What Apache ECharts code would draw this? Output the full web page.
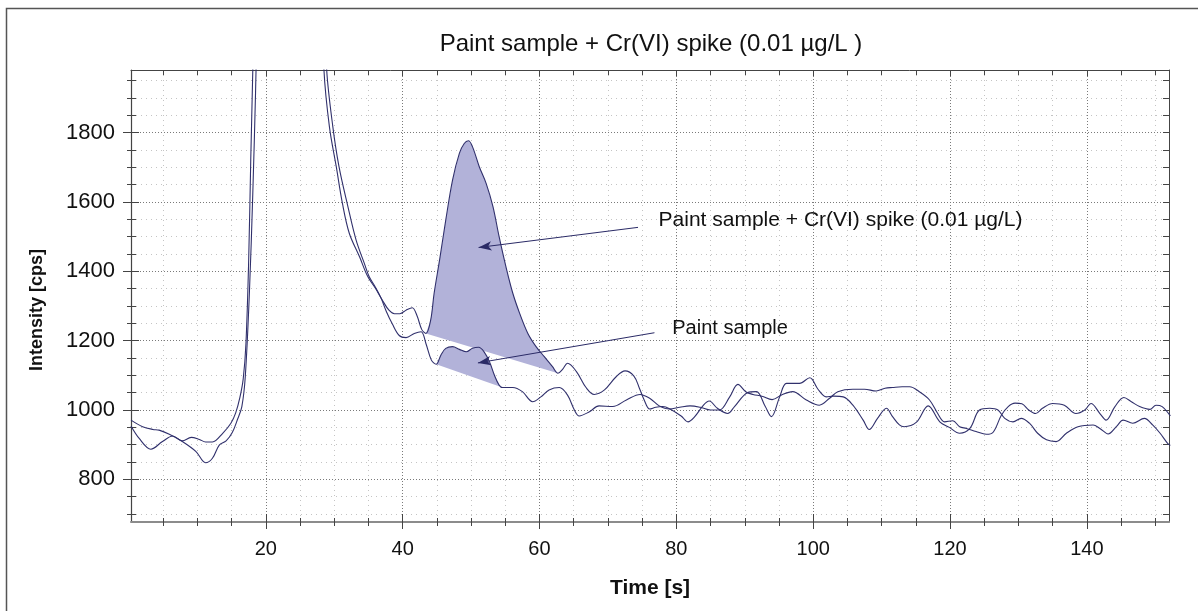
<!DOCTYPE html>
<html>
<head>
<meta charset="utf-8">
<script src="https://cdn.jsdelivr.net/npm/echarts@6/dist/echarts.min.js"></script>
<style>
html,body{margin:0;padding:0;background:#ffffff;}
#chart{width:1198px;height:611px;}
</style>
</head>
<body>
<div id="chart"></div>
<script>
// ---------------- data ----------------
const titleText = 'Paint sample + Cr(VI) spike (0.01 µg/L )';
const xAxisName = 'Time [s]';
const yAxisName = 'Intensity [cps]';
const xTickLabels = [20, 40, 60, 80, 100, 120, 140];
const yTickLabels = [800, 1000, 1200, 1400, 1600, 1800];

// Paint sample + Cr(VI) spike  [time s, intensity cps]
const spikeSeries = [
  [0.3,954],[1.5,918],[3.2,887],[4.9,909],[6.4,925],[7.8,911],[9.1,921],[10.3,915],[11.2,908],[12.2,908],
  [13.7,933],[14.9,962],[15.6,992],[16.2,1035],[16.7,1090],[17.1,1192],[17.5,1433],[17.8,1721],[18.1,1981],
  [18.4,2300],[19.5,3200],[23,4500],[27.5,3200],[28.2,2250],[28.5,1981],[29.3,1817],[30.3,1702],[31.2,1596],
  [32.2,1510],[33.7,1442],[34.9,1385],[36.0,1352],[37.0,1318],[38.0,1288],[38.8,1278],[39.6,1278],[40.5,1288],
  [41.4,1295],[42.1,1272],[42.8,1232],[43.4,1221],[44.1,1260],[44.6,1337],[45.4,1433],[46.3,1548],[47.3,1664],
  [48.3,1741],[49.0,1769],[49.6,1777],[50.2,1760],[51.2,1702],[52.2,1654],[53.2,1587],[54.1,1500],[55.1,1413],
  [56.1,1337],[57.1,1279],[58.3,1221],[59.5,1183],[60.7,1154],[61.9,1125],[62.7,1106],[63.4,1118],[64.1,1135],
  [65.4,1111],[66.8,1065],[68.0,1045],[69.5,1058],[71.2,1096],[72.5,1113],[73.8,1098],[74.6,1063],[75.3,1029],
  [76.1,1003],[77.0,1008],[78.0,1010],[79.0,1004],[80.7,983],[81.7,966],[82.6,979],[84.0,1015],[84.8,1026],
  [86.0,1005],[87.5,990],[88.5,1010],[90.4,1050],[91.7,1053],[93.0,1010],[93.9,981],[95.1,1038],[96.1,1077],
  [98.0,1077],[99.5,1093],[100.7,1060],[101.9,1038],[103.0,1040],[104.4,1038],[105.8,1014],[107.3,971],
  [108.2,944],[109.4,976],[110.7,1005],[111.6,981],[112.6,957],[113.3,952],[115.1,965],[116.8,1012],[118.5,966],
  [119.9,950],[121.4,933],[122.9,947],[124.3,1000],[125.8,1005],[127.0,1000],[128.0,976],[129.2,966],[130.4,976],
  [131.6,962],[132.8,933],[134.1,914],[135.5,909],[137.0,933],[138.7,952],[140.9,957],[141.9,947],[143.1,931],
  [144.3,952],[145.3,971],[146.7,962],[148.4,976],[149.6,957],[150.7,933],[151.8,904],[152.2,898]
];

// Paint sample  [time s, intensity cps]
const paintSeries = [
  [0.3,971],[2.0,952],[3.5,944],[4.4,942],[5.9,930],[7.8,909],[9.8,880],[11.2,848],[12.2,861],[13.2,899],
  [14.2,911],[15.1,935],[15.9,975],[16.5,1010],[17.0,1096],[17.6,1337],[18.1,1625],[18.5,1914],[18.7,2100],
  [20,3200],[24,4500],[28,3200],[28.6,2200],[28.9,1981],[29.8,1817],[30.7,1702],[32.0,1587],[33.2,1490],
  [34.4,1423],[35.1,1385],[36.0,1355],[36.8,1325],[37.6,1285],[38.5,1248],[39.5,1215],[40.5,1209],[41.7,1221],
  [42.7,1226],[43.4,1192],[44.2,1144],[44.9,1132],[45.6,1159],[46.3,1178],[47.3,1183],[48.3,1175],[49.3,1168],
  [50.2,1178],[51.1,1181],[51.9,1168],[52.7,1139],[53.4,1101],[54.1,1072],[54.6,1065],[56.1,1065],[57.5,1053],
  [59.0,1024],[60.2,1038],[61.4,1058],[62.9,1065],[64.1,1043],[65.1,1000],[65.8,983],[67.3,995],[68.7,1012],
  [70.7,1010],[72.7,1029],[74.7,1045],[76.1,1034],[77.5,1012],[79.0,1003],[80.5,1008],[82.0,1012],[83.5,1008],
  [85.0,1000],[86.3,1000],[87.8,1038],[89.0,1074],[90.2,1052],[91.2,1045],[92.5,1040],[94.0,1030],[95.5,1045],
  [97.0,1053],[99.0,1029],[100.9,1014],[102.4,1034],[103.6,1053],[105.8,1060],[107.5,1060],[109.2,1055],
  [110.5,1063],[111.6,1065],[113.0,1067],[114.1,1067],[115.5,1053],[117.0,1029],[118.2,990],[119.2,966],
  [120.4,969],[121.4,952],[122.4,947],[123.8,938],[125.3,930],[126.3,936],[127.5,985],[128.5,1010],[129.5,1020],
  [130.5,1018],[131.5,1000],[132.5,990],[133.5,1005],[135.0,1019],[136.7,1014],[138.4,990],[139.7,1000],
  [140.6,1019],[141.9,990],[142.8,971],[144.1,1010],[145.4,1036],[146.5,1024],[147.7,1010],[149.2,1002],
  [150.1,1014],[151.0,1010],[152.2,983]
];

// integrated peak areas (time range on each curve)
const spikeFillRange = [43.4, 62.7];
const paintFillRange = [44.9, 54.6];

// annotation texts and arrows, in data coordinates
const annotationTexts = ['Paint sample + Cr(VI) spike (0.01 µg/L)', 'Paint sample'];
const annotationTextAt = [[77.4, 1548], [79.4, 1234]];
const arrowFrom = [[74.4, 1527], [76.8, 1223]];
const arrowTo = [[51.1, 1469], [51.0, 1136]];

// ---------------- chart ----------------
const X_MIN = 0.3, X_MAX = 152, Y_MIN = 677, Y_MAX = 1981;
const FONT = '"Liberation Sans", Arial, Helvetica, sans-serif';
const LINE = '#30306c';
const FILL = '#b2b2d9';

const fillSets = [
  spikeSeries.filter(p => p[0] >= spikeFillRange[0] && p[0] <= spikeFillRange[1]),
  paintSeries.filter(p => p[0] >= paintFillRange[0] && p[0] <= paintFillRange[1])
];

function xAxisBase(extra) {
  return Object.assign({
    type: 'value', min: X_MIN, max: X_MAX, minInterval: 20, maxInterval: 20,
    axisLine: { show: false, onZero: false },
    axisTick: { show: true, customValues: xTickLabels, lineStyle: { color: '#444', width: 1 } },
    minorTick: { show: true, splitNumber: 4, lineStyle: { color: '#444', width: 1 } },
    axisLabel: { show: false, customValues: xTickLabels },
    splitLine: { show: false },
    minorSplitLine: { show: false }
  }, extra);
}
function yAxisBase(extra) {
  return Object.assign({
    type: 'value', min: Y_MIN, max: Y_MAX, minInterval: 200, maxInterval: 200,
    axisLine: { show: false, onZero: false },
    axisTick: { show: true, customValues: yTickLabels, lineStyle: { color: '#444', width: 1 } },
    minorTick: { show: true, splitNumber: 4, lineStyle: { color: '#444', width: 1 } },
    axisLabel: { show: false, customValues: yTickLabels },
    splitLine: { show: false },
    minorSplitLine: { show: false }
  }, extra);
}

const chart = echarts.init(document.getElementById('chart'), null, { renderer: 'canvas' });

const option = {
  animation: false,
  backgroundColor: '#ffffff',
  textStyle: { fontFamily: FONT },
  grid: { left: 131, right: 29, top: 70, bottom: 89 },
  graphic: [
    { type: 'rect', z: -10, silent: true,
      shape: { x: 6.5, y: 8.5, width: 1400, height: 900 },
      style: { fill: 'none', stroke: '#555', lineWidth: 1.5 } },
    { type: 'text', x: 651, y: 44, silent: true,
      style: { text: titleText, textAlign: 'center', textVerticalAlign: 'middle',
               font: '24px ' + FONT, fill: '#111' } },
    { type: 'text', x: 37, y: 310, rotation: Math.PI / 2, silent: true,
      style: { text: yAxisName, textAlign: 'center', textVerticalAlign: 'middle',
               font: 'bold 18px ' + FONT, fill: '#111' } }
  ],
  xAxis: [
    xAxisBase({
      position: 'bottom',
      axisLine: { show: true, onZero: false, lineStyle: { color: '#8c8c8c', width: 2 } },
      axisTick: { show: true, inside: false, length: 7, customValues: xTickLabels, lineStyle: { color: '#444' } },
      minorTick: { show: true, splitNumber: 4, length: 4, lineStyle: { color: '#444' } },
      axisLabel: { show: true, customValues: xTickLabels, margin: 17, fontSize: 20, color: '#111', fontFamily: FONT,
                   formatter: v => String(v) },
      splitLine: { show: true, lineStyle: { color: '#7a7a7a', width: 1, type: [1, 2] } },
      minorSplitLine: { show: true, lineStyle: { color: '#c4c4c4', width: 1, type: [1, 4] } },
      name: xAxisName, nameLocation: 'middle', nameGap: 56,
      nameTextStyle: { fontSize: 21, fontWeight: 'bold', color: '#111', fontFamily: FONT }
    }),
    xAxisBase({
      position: 'bottom',
      axisTick: { show: true, inside: true, length: 8, customValues: xTickLabels, lineStyle: { color: '#444' } },
      minorTick: { show: true, splitNumber: 4, length: 4, lineStyle: { color: '#444' } }
    }),
    xAxisBase({
      position: 'top',
      axisLine: { show: true, onZero: false, lineStyle: { color: '#444', width: 1 } },
      axisTick: { show: true, inside: true, length: 6, customValues: xTickLabels, lineStyle: { color: '#444' } },
      minorTick: { show: true, splitNumber: 4, length: 5, lineStyle: { color: '#444' } }
    })
  ],
  yAxis: [
    yAxisBase({
      position: 'left',
      axisLine: { show: true, onZero: false, lineStyle: { color: '#444', width: 1.2 } },
      axisTick: { show: true, inside: false, length: 8, customValues: yTickLabels, lineStyle: { color: '#444' } },
      minorTick: { show: true, splitNumber: 4, length: 4, lineStyle: { color: '#444' } },
      axisLabel: { show: true, customValues: yTickLabels, margin: 16, fontSize: 22, color: '#111', fontFamily: FONT,
                   formatter: v => String(v) },
      splitLine: { show: true, lineStyle: { color: '#7a7a7a', width: 1, type: [1, 2] } },
      minorSplitLine: { show: true, lineStyle: { color: '#c4c4c4', width: 1, type: [1, 4] } }
    }),
    yAxisBase({
      position: 'left',
      axisTick: { show: true, inside: true, length: 8, customValues: yTickLabels, lineStyle: { color: '#444' } },
      minorTick: { show: true, splitNumber: 4, length: 5, lineStyle: { color: '#444' } }
    }),
    yAxisBase({
      position: 'right',
      axisLine: { show: true, onZero: false, lineStyle: { color: '#444', width: 1 } },
      axisTick: { show: true, inside: true, length: 6, customValues: yTickLabels, lineStyle: { color: '#444' } },
      minorTick: { show: true, splitNumber: 4, length: 6, lineStyle: { color: '#444' } }
    })
  ],
  series: [
    {
      type: 'custom', name: 'peak areas', xAxisIndex: 0, yAxisIndex: 0, z: 1, silent: true,
      data: [[47, 1300], [50, 1100]],
      renderItem: function (params, api) {
        const pts = fillSets[params.dataIndex].map(p => api.coord(p));
        return { type: 'polygon', shape: { points: pts }, style: { fill: FILL, stroke: null } };
      }
    },
    {
      type: 'line', name: 'Paint sample + Cr(VI) spike', xAxisIndex: 0, yAxisIndex: 0, z: 3,
      data: spikeSeries, showSymbol: false, symbol: 'none', smooth: 0.35, clip: true,
      lineStyle: { color: LINE, width: 1.1 }, silent: true,
      markLine: {
        silent: true, animation: false, symbol: ['none', 'arrow'],
        label: { show: false },
        lineStyle: { color: '#2a2a66', width: 1, type: 'solid' },
        emphasis: { disabled: true },
        data: arrowFrom.map((f, i) => [
          { coord: f, symbol: 'none' },
          { coord: arrowTo[i], symbol: 'arrow', symbolSize: [7, 13] }
        ])
      },
      markPoint: {
        silent: true, animation: false, symbol: 'circle', symbolSize: 0,
        data: annotationTextAt.map((c, i) => ({
          coord: c, symbolSize: 0, itemStyle: { color: 'transparent' },
          label: { show: true, position: 'right', distance: 0, formatter: annotationTexts[i],
                   fontSize: i === 0 ? 21 : 20, color: '#111', fontFamily: FONT }
        }))
      }
    },
    {
      type: 'line', name: 'Paint sample', xAxisIndex: 0, yAxisIndex: 0, z: 3,
      data: paintSeries, showSymbol: false, symbol: 'none', smooth: 0.35, clip: true,
      lineStyle: { color: LINE, width: 1.1 }, silent: true
    }
  ]
};
chart.setOption(option);
</script>
</body>
</html>
